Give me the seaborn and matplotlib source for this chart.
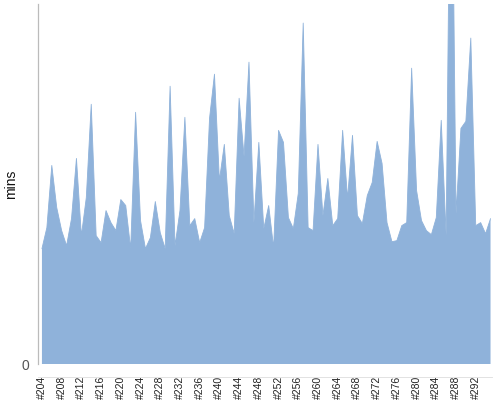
import numpy as np
import pandas as pd
import matplotlib
matplotlib.use("Agg")
import matplotlib.pyplot as plt
import seaborn as sns

# build numbers and duration per build
builds = list(range(204, 296))
durations = [11.5, 13.6, 19.8, 15.6, 13.3, 11.8, 14.5, 20.5, 12.8, 16.6,
             25.9, 12.8, 12.1, 15.3, 14.1, 13.3, 16.4, 15.8, 11.5, 25.1,
             14.3, 11.5, 12.6, 16.2, 13.1, 11.5, 27.7, 11.8, 15.3, 24.6,
             13.8, 14.5, 12.1, 13.6, 24.5, 28.9, 18.3, 21.9, 14.8, 13.0,
             26.5, 20.7, 30.1, 14.1, 22.1, 13.5, 15.8, 11.6, 23.3, 22.1,
             14.6, 13.5, 17.0, 34.0, 13.6, 13.3, 21.9, 14.8, 18.5, 13.8,
             14.5, 23.3, 16.5, 22.8, 14.8, 14.0, 16.8, 18.1, 22.2, 20.0,
             14.1, 12.2, 12.3, 13.8, 14.1, 29.5, 17.3, 14.3, 13.3, 12.9,
             14.6, 24.3, 12.8, 62.0, 15.0, 23.5, 24.2, 32.5, 13.8, 14.1,
             13.0, 14.5]
tick_pos = list(range(0, len(builds), 4))
tick_labels = ["#%d" % builds[i] for i in tick_pos]

df = pd.DataFrame({"idx": np.arange(len(builds)), "mins": durations})

sns.set_style("white")
plt.rcParams["font.family"] = ["Liberation Sans", "DejaVu Sans"]
fig = plt.figure(figsize=(5, 4), dpi=100)
ax = fig.add_axes([38 / 500, 36 / 400, 454 / 500, 360 / 400])

fill_color = "#8fb2da"
sns.lineplot(data=df, x="idx", y="mins", ax=ax, color=fill_color, linewidth=0.6)
ax.fill_between(df["idx"], 0, df["mins"], color=fill_color, linewidth=0)

ax.set_xlim(-0.8, 91.3)
ax.set_ylim(0, 35.9)

ax.set_yticks([0])
ax.set_yticklabels(["0"], color="#555555", fontsize=10)
ax.tick_params(axis="y", length=4, color="#aaaaaa", width=0.8, pad=2)

# minor ticks on every build, labels only every 4th, drawn vertically
ax.set_xticks(tick_pos)
ax.set_xticks(list(range(len(builds))), minor=True)
ax.tick_params(axis="x", which="both", length=2, color="#aaaaaa", width=0.6,
               labelbottom=False)
trans = ax.get_xaxis_transform()
for pos, lab in zip(tick_pos, tick_labels):
    ax.text(pos, -0.033, lab, transform=trans, rotation="vertical",
            ha="center", va="top", fontsize=7.5, color="#222222")

for side in ["top", "right"]:
    ax.spines[side].set_visible(False)
ax.spines["left"].set_color("#bbbbbb")
ax.spines["left"].set_linewidth(0.9)
ax.spines["bottom"].set_position(("outward", 9))
ax.spines["bottom"].set_color("#dddddd")
ax.spines["bottom"].set_linewidth(0.6)

ax.set_xlabel("")
ax.set_ylabel("mins", fontsize=10, color="#111111")
ax.yaxis.set_label_coords(-0.044, 0.5)

fig.savefig("out.png", dpi=100)
